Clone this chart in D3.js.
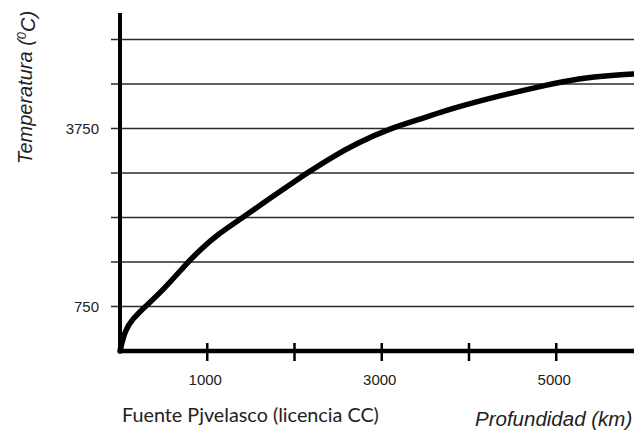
<!DOCTYPE html>
<html>
<head>
<meta charset="utf-8">
<script src="https://cdn.jsdelivr.net/npm/d3@7"></script>
<style>
    body { margin: 0; background: #fff; }
    svg { display: block; }
    .tick-label { font-family: "Liberation Sans", Arial, sans-serif; font-size: 15px; fill: #222; }
</style>
</head>
<body>
<div id="chart"></div>
<script>
const depth_km = [0, 57, 152, 267, 496, 764, 917, 1108, 1395, 1719, 2025, 2140, 2407, 2713, 3095,
    3476, 3744, 4241, 4393, 4890, 5158, 5539, 5883];
const temp_c = [0, 354, 551, 720, 1028, 1478, 1702, 1955, 2237, 2574, 2882, 2995, 3248, 3501, 3753,
    3922, 4062, 4259, 4315, 4483, 4568, 4635, 4669];

const grid_values = [750, 1500, 2250, 3000, 3750, 4500, 5250];
const y_labels = [750, 3750];
const x_ticks = [1000, 2000, 3000, 4000, 5000];
const x_labels = [1000, 3000, 5000];

var width = 634, height = 430;

var svg = d3.select("#chart")
    .append("svg")
    .attr("width", width)
    .attr("height", height);

var xScale = d3.scaleLinear()
    .domain([0, 5891])
    .range([120, 634]);

var yScale = d3.scaleLinear()
    .domain([0, 5697])
    .range([351, 13]);

/* лінії сітки */
svg.selectAll(".grid")
    .data(grid_values)
    .enter().append("line")
    .attr("class", "grid")
    .attr("x1", 111)
    .attr("x2", width)
    .attr("y1", function(d) { return yScale(d); })
    .attr("y2", function(d) { return yScale(d); })
    .attr("stroke", "#2a2a2a")
    .attr("stroke-width", 1.5);

svg.selectAll(".y-label")
    .data(y_labels)
    .enter().append("text")
    .attr("class", "tick-label y-label")
    .attr("x", 99)
    .attr("y", function(d) { return yScale(d); })
    .attr("dy", "0.36em")
    .attr("text-anchor", "end")
    .text(function(d) { return d; });

/* осі */
svg.append("line")
    .attr("x1", xScale(0))
    .attr("x2", xScale(0))
    .attr("y1", yScale(5697))
    .attr("y2", yScale(0) + 2)
    .attr("stroke", "#000")
    .attr("stroke-width", 4);

svg.append("line")
    .attr("x1", xScale(0) - 2)
    .attr("x2", width)
    .attr("y1", yScale(0))
    .attr("y2", yScale(0))
    .attr("stroke", "#000")
    .attr("stroke-width", 4.5);

svg.selectAll(".x-tick")
    .data(x_ticks)
    .enter().append("line")
    .attr("class", "x-tick")
    .attr("x1", function(d) { return xScale(d); })
    .attr("x2", function(d) { return xScale(d); })
    .attr("y1", yScale(0) - 8)
    .attr("y2", yScale(0) + 10)
    .attr("stroke", "#000")
    .attr("stroke-width", 2.5);

svg.selectAll(".x-label")
    .data(x_labels)
    .enter().append("text")
    .attr("class", "tick-label x-label")
    .attr("x", function(d) { return xScale(d) - 2; })
    .attr("y", 385)
    .attr("text-anchor", "middle")
    .text(function(d) { return d; });

/* крива */
var line = d3.line()
    .x(function(d) { return xScale(d[0]); })
    .y(function(d) { return yScale(d[1]); })
    .curve(d3.curveBasis);

svg.append("path")
    .datum(depth_km.map(function(d, i) { return [d, temp_c[i]]; }))
    .attr("d", line)
    .attr("fill", "none")
    .attr("stroke", "#000")
    .attr("stroke-width", 5.5)
    .attr("stroke-linecap", "round")
    .attr("stroke-linejoin", "round");

/* підписи */
var yTitle = svg.append("text")
    .attr("transform", "translate(32,164) rotate(-90)")
    .style("font-family", "'Liberation Sans', Arial, sans-serif")
    .style("font-style", "italic")
    .style("font-size", "20px")
    .attr("fill", "#222");
yTitle.append("tspan").text("Temperatura (");
yTitle.append("tspan").attr("dy", "-0.45em").style("font-size", "13px").text("0");
yTitle.append("tspan").attr("dy", "0.45em").text("C)");

svg.append("text")
    .attr("x", 122)
    .attr("y", 422)
    .style("font-family", "Lato, sans-serif")
    .style("font-size", "19.8px")
    .attr("fill", "#222")
    .text("Fuente Pjvelasco (licencia CC)");

svg.append("text")
    .attr("x", 475)
    .attr("y", 426)
    .style("font-family", "'Liberation Sans', Arial, sans-serif")
    .style("font-style", "italic")
    .style("font-size", "20.5px")
    .attr("fill", "#222")
    .text("Profundidad (km)");
</script>
</body>
</html>
